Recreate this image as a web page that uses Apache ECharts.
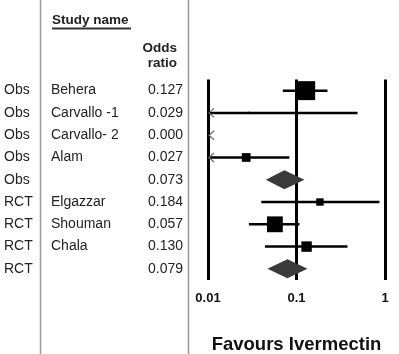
<!DOCTYPE html>
<html>
<head>
<meta charset="utf-8">
<script src="https://cdn.jsdelivr.net/npm/echarts@6/dist/echarts.min.js"></script>
<style>
  html, body { margin: 0; padding: 0; background: #fff; }
  #chart { width: 399px; height: 354px; }
</style>
</head>
<body>
<div id="chart"></div>
<script>
// rows of the forest plot, top to bottom
var groups = ['Obs', 'Obs', 'Obs', 'Obs', 'Obs', 'RCT', 'RCT', 'RCT', 'RCT'];
var studies = ['Behera', 'Carvallo -1', 'Carvallo- 2', 'Alam', '', 'Elgazzar', 'Shouman', 'Chala', ''];
var oddsRatios = [0.127, 0.029, 0.000, 0.027, 0.073, 0.184, 0.057, 0.130, 0.079];
var oddsText = ['0.127', '0.029', '0.000', '0.027', '0.073', '0.184', '0.057', '0.130', '0.079'];
var ciLower = [0.070, 0.002, 0.0001, 0.004, 0.045, 0.040, 0.029, 0.044, 0.047];
var ciUpper = [0.224, 0.49, 0.004, 0.083, 0.123, 0.866, 0.108, 0.377, 0.133];
var weights = [33, 0.5, 0, 7, 0, 5, 23, 10, 0];   // relative weight -> square area
var isSummary = [false, false, false, false, true, false, false, false, true];
var xTicks = ['0.01', '0.1', '1'];

var FONT = '"Liberation Sans", Arial, sans-serif';
var chart = echarts.init(document.getElementById('chart'));

var rows = studies.map(function (s, i) { return [i]; });

function renderForest(params, api) {
    var i = api.value(0);
    var y = api.coord([1, i])[1];
    var xMin = api.coord([0.01, i])[0];
    var children = [];

    function xOf(v) { return Math.max(api.coord([v, i])[0], xMin); }

    if (isSummary[i]) {
        var xl = xOf(ciLower[i]), xr = xOf(ciUpper[i]), xc = xOf(oddsRatios[i]);
        children.push({
            type: 'polygon',
            shape: { points: [[xl, y], [xc, y - 9.5], [xr, y], [xc, y + 9.5]] },
            style: { fill: '#3a3a3a' }
        });
        return { type: 'group', children: children };
    }

    var lowOff = ciLower[i] < 0.01;
    if (ciUpper[i] > 0.01) {
        children.push({
            type: 'line',
            shape: { x1: xOf(ciLower[i]), y1: y, x2: xOf(ciUpper[i]), y2: y },
            style: { stroke: '#000', lineWidth: 2.5 }
        });
    }
    if (lowOff) {
        children.push({
            type: 'polyline',
            shape: { points: [[xMin + 6, y - 4.5], [xMin + 1, y], [xMin + 6, y + 4.5]] },
            style: { stroke: '#666', lineWidth: 1.2, fill: null }
        });
    }
    if (weights[i] > 0 && oddsRatios[i] > 0) {
        var s = Math.sqrt(weights[i]) * 3.3;
        var xc2 = xOf(oddsRatios[i]);
        children.push({
            type: 'rect',
            shape: { x: xc2 - s / 2, y: y - s / 2, width: s, height: s },
            style: { fill: '#000' }
        });
    }
    return { type: 'group', children: children };
}

function renderTable(params, api) {
    var i = api.value(0);
    var y = api.coord([1, i])[1];
    var base = { fontSize: 14, fontFamily: FONT, fill: '#222', verticalAlign: 'middle' };
    return {
        type: 'group',
        children: [
            { type: 'text', style: Object.assign({ text: groups[i], x: 4, y: y, align: 'left' }, base) },
            { type: 'text', style: Object.assign({ text: studies[i], x: 51, y: y, align: 'left' }, base) },
            { type: 'text', style: Object.assign({ text: oddsText[i], x: 183, y: y, align: 'right' }, base) }
        ]
    };
}

var option = {
    animation: false,
    grid: { left: 208, right: 14, top: 79.5, height: 200.5, outerBoundsMode: 'none' },
    xAxis: {
        type: 'log',
        logBase: 10,
        min: 0.01,
        max: 1,
        axisLine: { show: false },
        axisTick: { show: false },
        splitLine: { show: true, showMinLine: true, showMaxLine: true, lineStyle: { color: '#000', width: 3 } },
        axisLabel: {
            margin: 12,
            fontFamily: FONT,
            fontWeight: 'bold',
            fontSize: 13,
            color: '#111',
            formatter: function (v) {
                var k = Math.round(Math.log10(v)) + 2;
                return xTicks[k] || '';
            }
        },
        name: 'Favours Ivermectin',
        nameLocation: 'middle',
        nameGap: 55,
        nameTextStyle: { fontFamily: FONT, fontWeight: 'bold', fontSize: 18.5, color: '#111' }
    },
    yAxis: {
        type: 'value',
        inverse: true,
        min: -0.5,
        max: 8.5,
        show: false
    },
    graphic: [
        { type: 'line', shape: { x1: 40.5, y1: 0, x2: 40.5, y2: 354 }, style: { stroke: '#9a9a9a', lineWidth: 1.5 } },
        { type: 'line', shape: { x1: 188.5, y1: 0, x2: 188.5, y2: 354 }, style: { stroke: '#9a9a9a', lineWidth: 1.5 } },
        { type: 'text', left: 52, top: 13, style: { text: 'Study name', fontFamily: FONT, fontWeight: 'bold', fontSize: 13.5, fill: '#222' } },
        { type: 'line', shape: { x1: 52, y1: 28.5, x2: 131, y2: 28.5 }, style: { stroke: '#333', lineWidth: 2 } },
        { type: 'text', right: 222, top: 41, style: { text: 'Odds', fontFamily: FONT, fontWeight: 'bold', fontSize: 13.5, fill: '#222' } },
        { type: 'text', right: 222, top: 56, style: { text: 'ratio', fontFamily: FONT, fontWeight: 'bold', fontSize: 13.5, fill: '#222' } }
    ],
    series: [
        {
            type: 'custom',
            name: 'forest',
            renderItem: renderForest,
            encode: { y: 0 },
            data: rows,
            z: 3
        },
        {
            type: 'custom',
            name: 'table',
            renderItem: renderTable,
            encode: { y: 0 },
            data: rows,
            z: 4
        }
    ]
};

chart.setOption(option);
</script>
</body>
</html>
